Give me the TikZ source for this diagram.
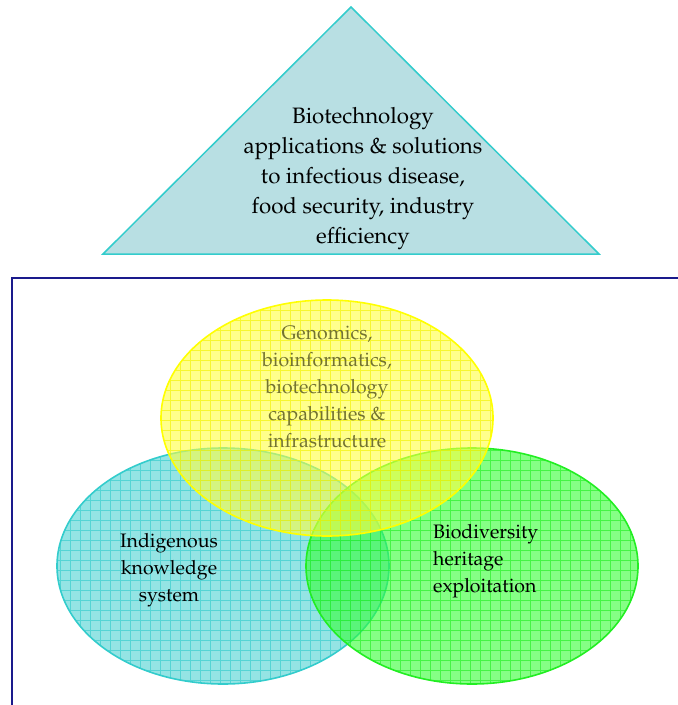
\documentclass[tikz,border=0pt]{standalone}
\usepackage[T1]{fontenc}
\usepackage{mathpazo}
\definecolor{trifill}{HTML}{B8DFE3}
\definecolor{triline}{HTML}{33CCCC}
\definecolor{framecol}{HTML}{1A1A8C}
\definecolor{tealfill}{HTML}{4DD2D2}
\definecolor{tealline}{HTML}{33CCCC}
\definecolor{yelfill}{HTML}{FFFF40}
\definecolor{yelline}{HTML}{F2F200}
\definecolor{yeledge}{HTML}{FFFF00}
\definecolor{grnfill}{HTML}{33FF33}
\definecolor{grnline}{HTML}{22EE22}
\definecolor{olivetext}{HTML}{737330}
\tikzset{
  toptext/.style={align=center, inner sep=0pt, font=\fontsize{22.3}{30}\selectfont},
  elltext/.style={inner sep=0pt, font=\fontsize{19.5}{27}\selectfont},
}
\newcommand\gridellipse[5]{%
  \fill[#3, fill opacity=0.6] (#1,#2) ellipse [x radius=166pt, y radius=118pt];
  \begin{scope}
    \clip (#1,#2) ellipse [x radius=166pt, y radius=118pt];
    \draw[#4, line width=0.6pt, opacity=0.65, step=10pt] (#1-170,#2-125) grid (#1+170,#2+125);
  \end{scope}
  \draw[#5, line width=1.6pt] (#1,#2) ellipse [x radius=166pt, y radius=118pt];
}
\begin{document}
\begin{tikzpicture}[x=1pt,y=1pt]
\useasboundingbox (0,0) rectangle (678,-705);
% triangle
\draw[triline, fill=trifill, line width=1.5pt, line join=miter] (103,-254) -- (351,-7) -- (599,-254) -- cycle;
\node[toptext] (apps) at (363,-179) {Biotechnology\\applications \& solutions\\to infectious disease,\\food security, industry\\efficiency};
% frame
\draw[framecol, line width=2.8pt] (678,-278) -- (12,-278) -- (12,-705);
% ellipses
\gridellipse{223}{-566}{tealfill}{tealline}{tealline}
\gridellipse{472}{-566}{grnfill}{grnline}{grnline}
\gridellipse{327}{-418}{yelfill}{yelline}{yeledge}
% texts
\node[elltext, align=center, text=olivetext] (geno) at (327,-387) {Genomics,\\bioinformatics,\\biotechnology\\capabilities \&\\infrastructure};
\node[elltext, align=center] (ind) at (169,-570) {Indigenous\\knowledge\\system};
\node[elltext, align=left, anchor=west] (bio) at (433,-561) {Biodiversity\\heritage\\exploitation};
\end{tikzpicture}
\end{document}
